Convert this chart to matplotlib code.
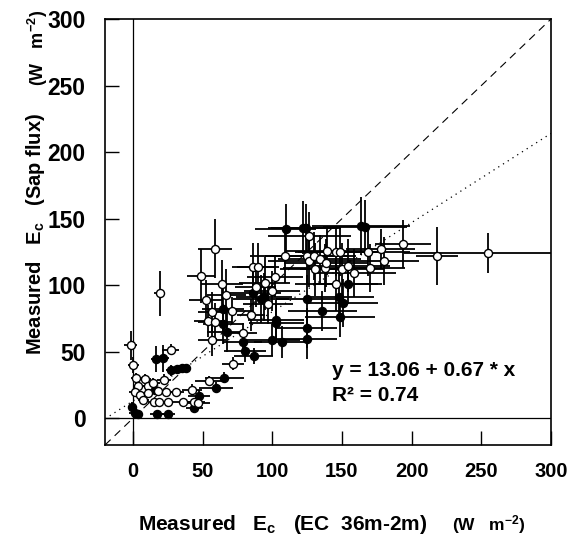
import matplotlib
matplotlib.use("Agg")
import matplotlib.pyplot as plt
import numpy as np

plt.rcParams["font.family"] = ["Liberation Sans", "DejaVu Sans"]
plt.rcParams["font.weight"] = "bold"
plt.rcParams["mathtext.fontset"] = "custom"
plt.rcParams["mathtext.rm"] = "Liberation Sans:bold"
plt.rcParams["mathtext.it"] = "Liberation Sans:bold"
plt.rcParams["mathtext.bf"] = "Liberation Sans:bold"

# Open symbols: x, y, x error, y error (W m-2)
open_x = [-1.7, 0.2, 27, 19.4, 2.4, 8.7, 4, 1.5, 10.5, 14.5, 5, 11, 18, 22.3, 24, 31,
          36, 42.5, 54.7, 15.5, 19, 25, 7.5, 43.5, 47, 72,
          58.8, 49, 52.5, 64, 67, 56.6, 54, 59, 57, 71, 79, 85, 86, 90, 88, 94.5,
          100, 97, 102, 109,
          126.6, 125, 126.6, 130, 134, 130.7, 138, 138.6, 139, 146, 148.7, 150,
          154.7, 159, 146, 168.8, 170, 177.7, 180, 193.8, 218, 254.7]
open_y = [55, 40, 51.5, 94, 30, 29.5, 24, 19.5, 24, 26.5, 17.5, 19, 20.5, 29, 20, 20,
          12.5, 21.5, 28, 12.5, 12, 12.5, 14, 12, 11.5, 41,
          127.5, 107, 89, 101, 92.5, 80, 73, 72.5, 59, 81, 64, 77.5, 113.5, 114, 98.5, 101.5,
          96, 86, 106.5, 122,
          137, 122, 118.5, 122, 119.5, 112, 113, 117, 125.5, 125, 125, 112,
          114.7, 109, 100.7, 125, 113, 127, 118.5, 130.7, 122, 124]
open_xerr = [5, 4, 6, 4, 4, 4, 4, 4, 5, 5, 4, 5, 5, 5, 5, 6,
             6, 7, 10, 5, 5, 5, 4, 8, 8, 8,
             12, 10, 12, 15, 14, 10, 10, 12, 10, 15, 10, 10, 15, 15, 15, 18,
             20, 18, 20, 25,
             30, 30, 30, 30, 30, 25, 30, 30, 30, 30, 30, 30,
             30, 30, 30, 30, 25, 25, 25, 20, 15, 60]
open_yerr = [11, 6, 4, 17, 4, 4, 3, 3, 3, 4, 3, 3, 3, 4, 3, 3,
             3, 4, 4, 3, 3, 3, 3, 3, 3, 5,
             22, 20, 15, 18, 20, 15, 12, 14, 12, 10, 8, 12, 18, 18, 15, 20,
             15, 15, 15, 20,
             18, 20, 20, 18, 18, 20, 18, 18, 18, 18, 18, 20,
             20, 18, 20, 18, 18, 15, 18, 18, 22, 15]

# Filled symbols: x, y, x error, y error (W m-2)
fill_x = [-0.7, 1.2, 3.6, 17, 25, 16.8, 21.6, 27.6, 31.6, 35.5, 38, 44, 47.5, 59.5,
          65.7, 15.6, 80.6, 86.8, 79, 67.4, 65, 64.7, 86, 92, 94, 102.6, 103, 100,
          106.7, 124.7, 124.7, 136, 124.7, 109.6, 122.3, 124, 163.8, 166.7, 147.7,
          151, 148.7, 154]
fill_y = [8.5, 4, 3, 3, 3, 44.5, 45, 36, 37, 37.7, 38, 7.7, 16.5, 23,
          30.7, 21.5, 50.7, 46.5, 57, 65, 71, 82, 94, 90, 91.5, 73.7, 71.5, 58.7,
          57.7, 67.7, 59.7, 81, 89.7, 142, 143.2, 143, 144.5, 144, 91.5,
          86.5, 76.5, 101]
fill_xerr = [3, 4, 4, 5, 5, 4, 4, 4, 4, 4, 4, 6, 8, 12,
             14, 4, 15, 14, 14, 14, 15, 15, 20, 20, 20, 20, 20, 20,
             20, 22, 22, 25, 22, 22, 25, 25, 35, 30, 25,
             25, 25, 25]
fill_yerr = [4, 3, 3, 3, 3, 10, 10, 4, 3, 3, 3, 4, 5, 4,
             4, 4, 8, 6, 8, 15, 15, 18, 18, 18, 18, 15, 15, 12,
             12, 15, 15, 15, 18, 19, 20, 18, 22, 20, 18,
             18, 15, 15]

# Fitted line y = a + b x
fit_a, fit_b, fit_r2 = 13.06, 0.67, 0.74

x_ticks = [0, 50, 100, 150, 200, 250, 300]
y_ticks = [0, 50, 100, 150, 200, 250, 300]
lims = (-20, 300)

W, H = 571, 545
fig = plt.figure(figsize=(W / 100, H / 100), dpi=100)
ax = fig.add_axes([105 / W, 1 - 445 / H, 446 / W, 426 / H])
ax.set_xlim(*lims)
ax.set_ylim(*lims)

ax.axvline(0, color="black", lw=0.9, zorder=1)
ax.axhline(0, color="black", lw=0.9, zorder=1)

ref = np.array(lims)
ax.plot(ref, ref, color="black", lw=0.8, ls=(0, (7, 5)), zorder=1)
ax.plot(ref, fit_a + fit_b * ref, color="black", lw=0.9, ls=(0, (1, 3.5)), zorder=1)

ax.errorbar(fill_x, fill_y, xerr=fill_xerr, yerr=fill_yerr, fmt="none",
            ecolor="black", elinewidth=1.3, capsize=0, zorder=2)
ax.errorbar(open_x, open_y, xerr=open_xerr, yerr=open_yerr, fmt="none",
            ecolor="black", elinewidth=1.3, capsize=0, zorder=2)
ax.plot(fill_x, fill_y, "o", ms=5.8, mfc="black", mec="black", mew=1.0, zorder=3)
ax.plot(open_x, open_y, "o", ms=5.8, mfc="white", mec="black", mew=1.0, zorder=4)

ax.text(143, 36, f"y = {fit_a:.2f} + {fit_b:.2f} * x", fontsize=15,
        fontweight="bold", va="center", ha="left")
ax.text(143, 17.5, f"R² = {fit_r2:.2f}", fontsize=15,
        fontweight="bold", va="center", ha="left")

ax.set_xticks(x_ticks)
ax.set_yticks(y_ticks)
ax.set_xticklabels([str(t) for t in x_ticks])
ax.set_yticklabels([str(t) for t in y_ticks])
ax.tick_params(axis="x", direction="in", length=10, width=1, pad=12, labelsize=14.5)
ax.tick_params(axis="y", direction="in", length=10, width=1, pad=14, labelsize=16.5)
for lab in ax.get_xticklabels() + ax.get_yticklabels():
    lab.set_fontweight("bold")
for s in ax.spines.values():
    s.set_linewidth(1.2)

# Axis titles with separate, smaller unit labels
fig.text(283 / W, 1 - 525 / H, r"Measured   E$_{c}$   (EC  36m-2m)", fontsize=15,
         fontweight="bold", ha="center", va="center")
fig.text(489 / W, 1 - 525 / H, r"(W   m$^{-2}$)", fontsize=12.5,
         fontweight="bold", ha="center", va="center")
fig.text(36 / W, 1 - 234 / H, r"Measured   E$_{c}$   (Sap flux)", fontsize=14.5,
         fontweight="bold", ha="center", va="center", rotation=90)
fig.text(38 / W, 1 - 48 / H, r"(W   m$^{-2}$)", fontsize=13,
         fontweight="bold", ha="center", va="center", rotation=90)

fig.savefig("out.png", dpi=100)
